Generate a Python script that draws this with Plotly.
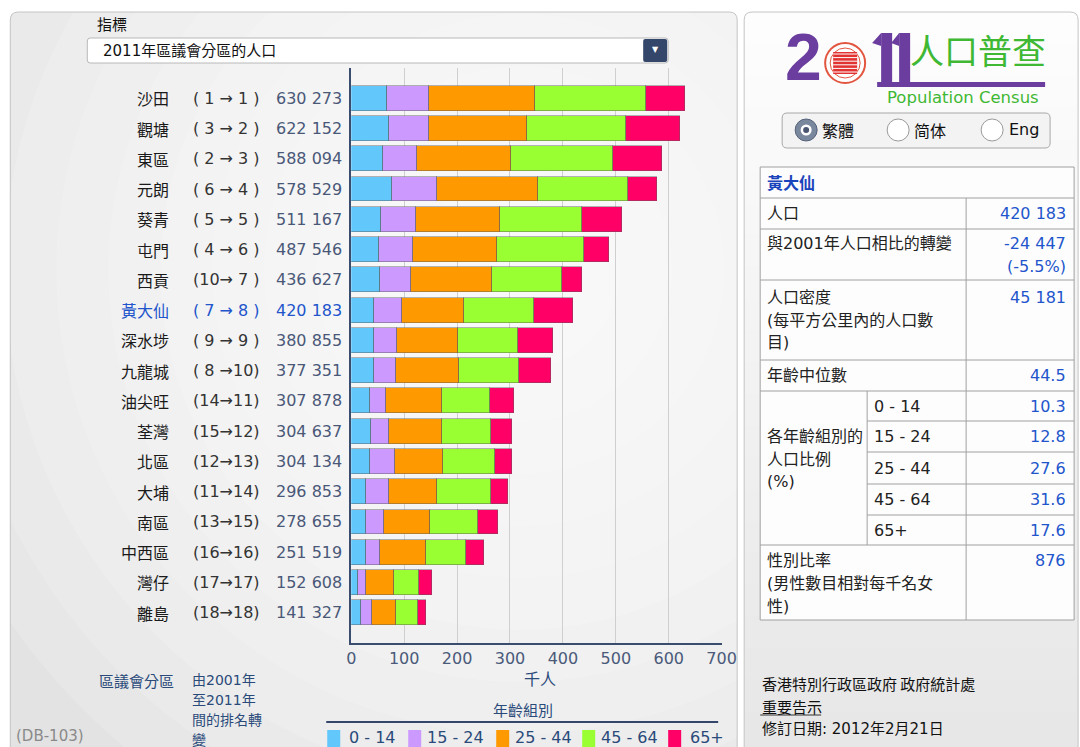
import plotly.graph_objects as go

# ---------------- data ----------------
districts = ["沙田", "觀塘", "東區", "元朗", "葵青", "屯門", "西貢", "黃大仙", "深水埗",
             "九龍城", "油尖旺", "荃灣", "北區", "大埔", "南區", "中西區", "灣仔", "離島"]
rank_2001 = [1, 3, 2, 6, 5, 4, 10, 7, 9, 8, 14, 15, 12, 11, 13, 16, 17, 18]
rank_2011 = list(range(1, 19))
population = [630273, 622152, 588094, 578529, 511167, 487546, 436627, 420183, 380855,
              377351, 307878, 304637, 304134, 296853, 278655, 251519, 152608, 141327]

age_groups = ["0 - 14", "15 - 24", "25 - 44", "45 - 64", "65+"]
age_0_14 = [67.5, 72.6, 60.5, 77.7, 56.2, 53.0, 55.1, 43.3, 43.6, 43.1, 36.7, 38.5, 36.7, 28.4, 29.1, 27.9, 13.9, 19.1]
age_15_24 = [80.1, 75.1, 64.3, 85.3, 66.9, 65.0, 58.8, 53.8, 44.2, 41.8, 29.8, 33.5, 45.6, 43.6, 34.2, 26.0, 14.6, 19.7]
age_25_44 = [199.4, 185.5, 177.1, 190.1, 157.8, 157.7, 151.9, 116.0, 113.7, 119.7, 106.4, 99.9, 92.5, 90.3, 86.1, 87.4, 51.9, 47.1]
age_45_64 = [210.1, 186.8, 193.5, 170.5, 155.3, 164.0, 132.2, 132.8, 113.7, 112.7, 90.6, 92.9, 96.9, 102.3, 90.6, 75.4, 48.1, 41.4]
age_65p = [73.2, 102.2, 92.7, 54.9, 75.1, 47.9, 38.6, 74.0, 65.7, 60.1, 44.4, 39.8, 32.3, 32.2, 38.6, 34.8, 24.1, 14.0]
age_colors = ["#62c8fb", "#cc99ff", "#ff9900", "#99ff33", "#ff0066"]

x_ticks = [0, 100, 200, 300, 400, 500, 600, 700]
selected = 7  # 黃大仙

# right-hand detail table (黃大仙)
sel_name = "黃大仙"
sel_population = 420183
sel_change = -24447
sel_change_pct = -5.5
sel_density = 45181
sel_median_age = 44.5
sel_age_pct = [10.3, 12.8, 27.6, 31.6, 17.6]
sel_sex_ratio = 876

# ---------------- helpers ----------------
H = 747
FIG_W = 1100
SX, OX = 0.982, 4.7   # horizontal compensation for how the page is captured
FONT = "DejaVu Sans, Noto Sans CJK TC"
CJK = "Noto Sans CJK TC"


def X(x):
    return ((x - OX) / SX) / FIG_W


def Y(y):
    return 1 - y / H


def fmt(n):
    s = f"{abs(n):,}".replace(",", " ")
    return ("-" if n < 0 else "") + s


shapes = []
annotations = []


def rect(x0, y0, x1, y1, fill="rgba(0,0,0,0)", line=None, lw=1):
    shapes.append(dict(type="rect", xref="paper", yref="paper", x0=X(x0), x1=X(x1),
                       y0=Y(y1), y1=Y(y0), fillcolor=fill,
                       line=dict(color=line or "rgba(0,0,0,0)", width=lw if line else 0),
                       layer="below"))


def rrect(x0, y0, x1, y1, r, fill="rgba(0,0,0,0)", line=None, lw=1):
    p = (f"M {X(x0 + r)},{Y(y0)} L {X(x1 - r)},{Y(y0)} Q {X(x1)},{Y(y0)} {X(x1)},{Y(y0 + r)} "
         f"L {X(x1)},{Y(y1 - r)} Q {X(x1)},{Y(y1)} {X(x1 - r)},{Y(y1)} "
         f"L {X(x0 + r)},{Y(y1)} Q {X(x0)},{Y(y1)} {X(x0)},{Y(y1 - r)} "
         f"L {X(x0)},{Y(y0 + r)} Q {X(x0)},{Y(y0)} {X(x0 + r)},{Y(y0)} Z")
    shapes.append(dict(type="path", xref="paper", yref="paper", path=p, fillcolor=fill,
                       line=dict(color=line or "rgba(0,0,0,0)", width=lw if line else 0),
                       layer="below"))


def poly(pts, fill):
    p = "M " + " L ".join(f"{X(a)},{Y(b)}" for a, b in pts) + " Z"
    shapes.append(dict(type="path", xref="paper", yref="paper", path=p, fillcolor=fill,
                       line=dict(width=0), layer="below"))


def circ(cx, cy, r, fill="rgba(0,0,0,0)", line=None, lw=1):
    shapes.append(dict(type="circle", xref="paper", yref="paper", x0=X(cx - r), x1=X(cx + r),
                       y0=Y(cy + r), y1=Y(cy - r), fillcolor=fill,
                       line=dict(color=line or "rgba(0,0,0,0)", width=lw if line else 0),
                       layer="below"))


def seg(x0, y0, x1, y1, color="#a0a0a0", lw=1):
    shapes.append(dict(type="line", xref="paper", yref="paper", x0=X(x0), x1=X(x1),
                       y0=Y(y0), y1=Y(y1), line=dict(color=color, width=lw), layer="below"))


def txt(x, y, s, size=16, color="#222222", anchor="left", family=FONT):
    annotations.append(dict(x=X(x), y=Y(y), xref="paper", yref="paper", text=s,
                            showarrow=False, xanchor=anchor, yanchor="middle",
                            font=dict(size=size, color=color, family=family)))


# ---------------- backgrounds ----------------
rrect(10, 12, 737, 775, 8, fill="#e3e3e3")
for k in range(11):
    r = 620 - 52 * k
    circ(520, 270, r, fill="rgba(255,255,255,0.15)")

# right panel: vertical gradient bands
n = 24
for i in range(n):
    t = i / (n - 1)
    c = int(253 - t * 22)
    y0 = 12 + i * (775 - 12) / n
    y1 = 12 + (i + 1) * (775 - 12) / n + 1
    rect(744, y0, 1078, y1, fill=f"rgb({c},{c},{c})")

rrect(10, 12, 737, 775, 8, line="#c4c4c4", lw=1)
rrect(744, 12, 1078, 775, 8, line="#c4c4c4", lw=1)

# ---------------- header dropdown ----------------
txt(95, 24, "指標", size=15, color="#111111", family=CJK)
rrect(87, 38, 668, 63, 3, fill="#ffffff", line="#b8b8b8")
rrect(643, 39, 667, 62, 2, fill="#34466a")
txt(655, 50, "▼", size=8, color="#ffffff", anchor="center")
txt(101, 51, "2011年區議會分區的人口", size=15, color="#111111")

# ---------------- bar labels ----------------
for i, name in enumerate(districts):
    yc = 68 + (i + 1) * 30.26
    hl = i == selected
    a, b = rank_2001[i], rank_2011[i]
    left = f" {a} " if a < 10 else f"{a}"
    right = f" {b} " if b < 10 else f"{b}"
    rank_txt = "(" + left + "→" + right + ")"
    txt(171, yc, name, size=16, color="#2255cc" if hl else "#1a1a1a", anchor="right", family=CJK)
    txt(226, yc, rank_txt, size=16, color="#2255cc" if hl else "#333333", anchor="center")
    txt(344, yc, fmt(population[i]), size=16, color="#2255cc" if hl else "#4a5878", anchor="right")

# ---------------- bottom-left texts & legend ----------------
txt(97, 680, "區議會分區", size=15, color="#2a4a7a", family=CJK)
for j, s in enumerate(["由2001年", "至2011年", "間的排名轉", "變"]):
    txt(190, 680 + 20 * j, s, size=14, color="#2a4a7a")
txt(14, 736, "(DB-103)", size=15, color="#8a8a8a")
txt(540, 678, "千人", size=16, color="#2a4a7a", anchor="center", family=CJK)
txt(523, 709, "年齡組別", size=15, color="#2a4a7a", anchor="center", family=CJK)
seg(326, 722, 718, 722, color="#34466a", lw=2)
leg_sq = [327, 408, 496, 582, 668]
leg_tx = [347, 425, 513, 599, 688]
for k in range(5):
    rect(leg_sq[k], 730, leg_sq[k] + 13, 752, fill=age_colors[k])
    txt(leg_tx[k], 737, age_groups[k], size=16, color="#2a4a7a")

# ---------------- logo ----------------
txt(803, 57, "<b>2</b>", size=66, color="#6a3d9e", anchor="center",
    family="Liberation Sans Narrow, Liberation Sans, DejaVu Sans")
circ(845, 63, 20, fill="#ffffff", line="#e2553f", lw=2)
circ(845, 63, 15, line="#e2553f", lw=1)
rect(833, 52, 857, 74, fill="#e23333")
for k in range(6):
    yy = 54 + k * 3.6
    seg(833, yy, 857, yy, color="#ffffff", lw=1)
poly([(881, 33), (892, 33), (892, 87), (881, 87)], "#6a3d9e")
poly([(881, 33), (872, 43), (881, 46)], "#6a3d9e")
poly([(899, 33), (910, 33), (910, 87), (899, 87)], "#6a3d9e")
poly([(899, 33), (891, 43), (899, 46)], "#6a3d9e")
rect(877, 82, 1045, 87, fill="#6a3d9e")
txt(978, 50, "人口普查", size=34, color="#3fb833", anchor="center", family=CJK)
txt(963, 97, "Population Census", size=16.5, color="#3fb833", anchor="center")

# radio buttons
rrect(782, 113, 1050, 148, 5, fill="#f3f3f3", line="#a8a8a8")
circ(806, 130, 11, fill="#7a889e", line="#55627a")
circ(806, 130, 5.5, fill="#ffffff")
circ(806, 130, 3, fill="#4a5670")
circ(898, 130, 11, fill="#ffffff", line="#9a9a9a")
circ(992, 130, 11, fill="#ffffff", line="#9a9a9a")
txt(820, 130, "繁體", size=16, color="#111111", family=CJK)
txt(912, 130, "简体", size=16, color="#111111", family="Noto Sans CJK SC")
txt(1007, 130, "Eng", size=16, color="#111111")

# ---------------- detail table ----------------
rect(760, 167, 1074, 620, fill="#fdfdfd", line="#a0a0a0")
for yy in [198, 229, 280, 360, 391, 545]:
    seg(760, yy, 1074, yy)
seg(966, 198, 966, 620)
seg(867, 391, 867, 545)
for yy in [421, 452, 484, 515]:
    seg(867, yy, 1074, yy)

VAL = "#2255cc"
txt(765, 182, "<b>" + sel_name + "</b>", size=16, color="#1a44bb", family=CJK)
txt(765, 213, "人口", size=16)
txt(1068, 213, fmt(sel_population), size=16, color=VAL, anchor="right")
txt(765, 243, "與2001年人口相比的轉變", size=16)
txt(1068, 243, fmt(sel_change), size=16, color=VAL, anchor="right")
txt(1068, 266, f"({sel_change_pct}%)", size=16, color=VAL, anchor="right")
for j, s in enumerate(["人口密度", "(每平方公里內的人口數", "目)"]):
    txt(765, 297 + 23 * j, s, size=16)
txt(1068, 297, fmt(sel_density), size=16, color=VAL, anchor="right")
txt(765, 375, "年齡中位數", size=16)
txt(1068, 375, f"{sel_median_age}", size=16, color=VAL, anchor="right")
for j, s in enumerate(["各年齡組別的", "人口比例", "(%)"]):
    txt(765, 437 + 22 * j, s, size=16)
age_row_y = [406, 437, 468, 499, 530]
for k in range(5):
    txt(872, age_row_y[k], age_groups[k], size=16)
    txt(1068, age_row_y[k], f"{sel_age_pct[k]}", size=16, color=VAL, anchor="right")
for j, s in enumerate(["性別比率", "(男性數目相對每千名女", "性)"]):
    txt(765, 560 + 23 * j, s, size=16)
txt(1068, 560, f"{sel_sex_ratio}", size=16, color=VAL, anchor="right")

# footer
txt(760, 683, "香港特別行政區政府 政府統計處", size=15, color="#111111", family=CJK)
txt(760, 706, "重要告示", size=15, color="#111111", family=CJK)
seg(760, 715, 821, 715, color="#333333", lw=1)
txt(760, 729, "修訂日期: 2012年2月21日", size=15, color="#111111")

# ---------------- bars ----------------
series = [age_0_14, age_15_24, age_25_44, age_45_64, age_65p]
fig = go.Figure()
ypos = list(range(len(districts)))
for k, vals in enumerate(series):
    fig.add_trace(go.Bar(
        x=vals, y=ypos, orientation="h", name=age_groups[k],
        marker=dict(color=age_colors[k], line=dict(color="rgba(90,90,90,0.45)", width=1)),
        width=0.82, hoverinfo="skip"))

fig.update_layout(
    width=FIG_W, height=H, autosize=False,
    margin=dict(l=0, r=0, t=0, b=0),
    paper_bgcolor="#ffffff", plot_bgcolor="rgba(0,0,0,0)",
    barmode="stack", showlegend=False, bargap=0,
    font=dict(family=FONT),
    xaxis=dict(domain=[X(351), X(722)], range=[0, 701], tickvals=x_ticks,
               ticktext=[str(v) for v in x_ticks],
               showgrid=True, gridcolor="#cfcfcf", gridwidth=1,
               showline=True, linecolor="#3b4d6e", linewidth=2, zeroline=False,
               ticks="", tickfont=dict(size=16, color="#4a5a7a"), fixedrange=True),
    yaxis=dict(domain=[Y(643), Y(68)], range=[18, -1], showticklabels=False,
               showgrid=False, zeroline=False, showline=True, linecolor="#3b4d6e",
               linewidth=2, ticks="", fixedrange=True),
    shapes=shapes, annotations=annotations,
)

fig.write_html("out.html", config={"displayModeBar": False, "responsive": False},
               post_script="document.body.style.margin='0';document.body.style.overflow='hidden';")
